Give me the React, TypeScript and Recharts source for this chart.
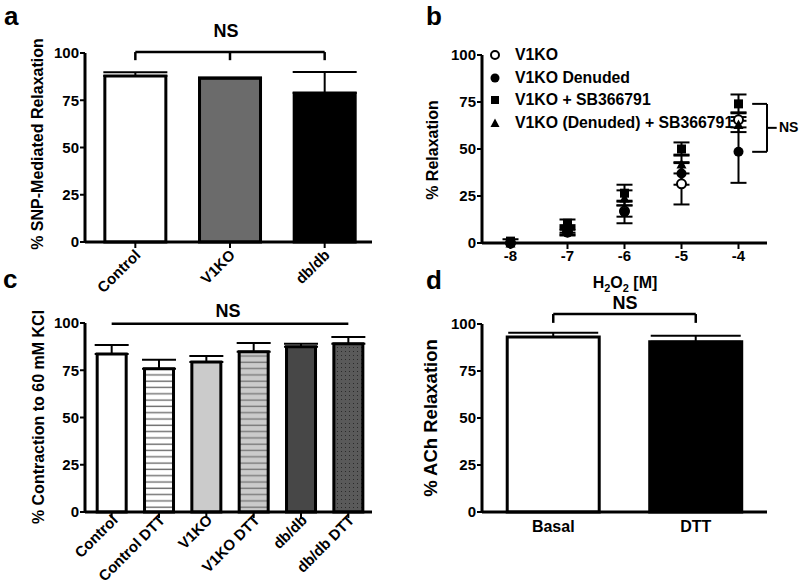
import React from "react";
import {
  BarChart,
  Bar,
  XAxis,
  YAxis,
  ErrorBar,
  Cell,
  ReferenceLine,
  ScatterChart,
  Scatter,
  Legend,
} from "recharts";

const FONT = "'Liberation Sans', Arial, Helvetica, sans-serif";
const INK = "#000000";

// a: SNP-mediated relaxation
const snpGroups = ["Control", "V1KO", "db/db"];
const snpMean = [87.8, 86.6, 78.8];
const snpSem = [2.0, 0.5, 11.2];
const snpFills = ["#ffffff", "#6b6b6b", "#000000"];

// b: H2O2 dose response
const doses = [-8, -7, -6, -5, -4];
const v1koMean = [0, 6, 17, 31.5, 65.5];
const v1koSem = [0, 1.5, 3, 11, 4];
const denudedMean = [0, 5.5, 16.5, 37, 48.5];
const denudedSem = [0, 1.5, 6, 6, 16.5];
const sbMean = [1, 10.5, 26.5, 50, 74];
const sbSem = [1, 2, 4.5, 3.5, 5];
const denudedSbMean = [0, 7.5, 24, 42, 63];
const denudedSbSem = [0, 2, 4, 5, 4];

// c: contraction to KCl
const kclGroups = ["Control", "Control DTT", "V1KO", "V1KO DTT", "db/db", "db/db DTT"];
const kclMean = [83.6, 75.8, 79.4, 84.8, 87.4, 89.0];
const kclSem = [4.8, 4.7, 3.2, 4.6, 1.6, 3.6];
const kclFills = ["#ffffff", "url(#hatchWhite)", "#cbcbcb", "url(#hatchGrey)", "#474747", "url(#dots)"];

// d: ACh relaxation
const achGroups = ["Basal", "DTT"];
const achMean = [93.1, 90.5];
const achSem = [2.2, 3.2];
const achFills = ["#ffffff", "#000000"];

const pctTicks = [0, 25, 50, 75, 100];

const snpData = snpGroups.map((g, i) => ({ group: g, mean: snpMean[i], err: [0, snpSem[i]] }));
const kclData = kclGroups.map((g, i) => ({ group: g, mean: kclMean[i], err: [0, kclSem[i]] }));
const achData = achGroups.map((g, i) => ({ group: g, mean: achMean[i], err: [0, achSem[i]] }));

const toPoints = (mean: number[], sem: number[]) =>
  doses.map((x, i) => ({ x, y: mean[i], err: sem[i] }));

const doseSeries = [
  { name: "V1KO", kind: "open", data: toPoints(v1koMean, v1koSem) },
  { name: "V1KO Denuded", kind: "circle", data: toPoints(denudedMean, denudedSem) },
  { name: "V1KO + SB366791", kind: "square", data: toPoints(sbMean, sbSem) },
  { name: "V1KO (Denuded) + SB366791", kind: "triangle", data: toPoints(denudedSbMean, denudedSbSem) },
];

// NS bracket at the top dose spans the highest and lowest mean there
const lastIdx = doses.length - 1;
const topAtMax = Math.max(...doseSeries.map((s) => s.data[lastIdx].y));
const lowAtMax = Math.min(...doseSeries.map((s) => s.data[lastIdx].y));

const axisLine = { stroke: INK, strokeWidth: 3 };
const tickLine = { stroke: INK, strokeWidth: 2 };
const tickFont = { fontSize: 15, fontWeight: "bold", fill: INK, fontFamily: FONT };

function drawMarker(kind: string, cx: number, cy: number, r = 4.5) {
  if (kind === "open") return <circle cx={cx} cy={cy} r={r} fill="#fff" stroke={INK} strokeWidth={2} />;
  if (kind === "circle") return <circle cx={cx} cy={cy} r={r + 0.5} fill={INK} />;
  if (kind === "square") return <rect x={cx - r} y={cy - r} width={r * 2} height={r * 2} fill={INK} />;
  return (
    <polygon
      points={`${cx},${cy - r - 0.5} ${cx + r + 0.5},${cy + r} ${cx - r - 0.5},${cy + r}`}
      fill={INK}
    />
  );
}

const angledTick = (dx: number, dy: number) => (props: any) => {
  const { x, y, payload } = props;
  return (
    <g transform={`translate(${x + dx},${y + dy})`}>
      <text textAnchor="end" transform="rotate(-45)" style={tickFont as any}>
        {payload.value}
      </text>
    </g>
  );
};

const doseLegend = (props: any) => {
  const names = doseSeries.map((s) => s.name);
  const items = [...(props.payload || [])].sort(
    (a: any, b: any) => names.indexOf(a.value) - names.indexOf(b.value)
  );
  return (
    <div style={{ fontFamily: FONT, fontWeight: "bold", fontSize: 15.8, color: INK }}>
      {items.map((entry: any) => {
        const s = doseSeries.find((d) => d.name === entry.value);
        return (
          <div key={entry.value} style={{ display: "flex", alignItems: "center", height: 22.5 }}>
            <svg width={12} height={12}>{drawMarker(s ? s.kind : "circle", 6, 6, 4)}</svg>
            <span style={{ marginLeft: 14, whiteSpace: "nowrap" }}>{entry.value}</span>
          </div>
        );
      })}
    </div>
  );
};

const Patterns = () => (
  <defs>
    <pattern id="hatchWhite" patternUnits="userSpaceOnUse" width={6} height={6.3}>
      <rect width={6} height={6.3} fill="#ffffff" />
      <line x1={0} y1={3} x2={6} y2={3} stroke="#6e6e6e" strokeWidth={1.4} />
    </pattern>
    <pattern id="hatchGrey" patternUnits="userSpaceOnUse" width={6} height={6.3}>
      <rect width={6} height={6.3} fill="#cbcbcb" />
      <line x1={0} y1={3} x2={6} y2={3} stroke="#7a7a7a" strokeWidth={1.4} />
    </pattern>
    <pattern id="dots" patternUnits="userSpaceOnUse" width={4} height={4}>
      <rect width={4} height={4} fill="#5a5a5a" />
      <rect x={1} y={1} width={1} height={1} fill="#2a2a2a" />
    </pattern>
  </defs>
);

export default function App() {
  return (
    <div style={{ position: "absolute", left: 0, top: 0, width: 800, height: 587, background: "#fff" }}>
      {/* a */}
      <div style={{ position: "absolute", left: 0, top: 0 }}>
        <BarChart
          width={400}
          height={310}
          data={snpData}
          margin={{ top: 53, right: 28, bottom: 38, left: 45 }}
          barCategoryGap="17.8%"
        >
          <XAxis
            dataKey="group"
            height={30}
            padding={{ left: 3, right: 0 }}
            axisLine={axisLine}
            tickLine={tickLine}
            tickSize={6}
            interval={0}
            tick={angledTick(6, 6)}
          />
          <YAxis
            width={40}
            domain={[0, 100]}
            ticks={pctTicks}
            axisLine={axisLine}
            tickLine={tickLine}
            tickSize={5}
            tickMargin={1}
            tick={tickFont}
          />
          <Bar dataKey="mean" stroke={INK} strokeWidth={3} isAnimationActive={false}>
            {snpData.map((d, i) => (
              <Cell key={d.group} fill={snpFills[i]} />
            ))}
            <ErrorBar dataKey="err" direction="y" width={32} stroke={INK} strokeWidth={2} />
          </Bar>
          <ReferenceLine
            ifOverflow="visible"
            stroke={INK}
            strokeWidth={2.5}
            segment={[{ x: "Control", y: 100.5 }, { x: "db/db", y: 100.5 }]}
          />
          {snpGroups.map((g) => (
            <ReferenceLine
              key={g}
              ifOverflow="visible"
              stroke={INK}
              strokeWidth={2.5}
              segment={[{ x: g, y: 100.5 }, { x: g, y: 96.2 }]}
            />
          ))}
        </BarChart>
      </div>

      {/* b */}
      <div style={{ position: "absolute", left: 400, top: 0 }}>
        <ScatterChart width={400} height={290} margin={{ top: 55, right: 33, bottom: 17, left: 42 }}>
          <XAxis
            type="number"
            dataKey="x"
            domain={[-8.5, -3.5]}
            ticks={doses}
            height={30}
            axisLine={axisLine}
            tickLine={tickLine}
            tickSize={6}
            tickMargin={1}
            tick={tickFont}
          />
          <YAxis
            type="number"
            dataKey="y"
            width={40}
            domain={[0, 100]}
            ticks={pctTicks}
            axisLine={axisLine}
            tickLine={tickLine}
            tickSize={5}
            tickMargin={1}
            tick={tickFont}
          />
          <Legend
            layout="vertical"
            align="center"
            verticalAlign="middle"
            content={doseLegend}
            wrapperStyle={{ left: 89, top: 44, width: 290 }}
          />
          {doseSeries.map((s) => (
            <Scatter
              key={s.name}
              name={s.name}
              data={s.data}
              isAnimationActive={false}
              fill={INK}
              shape={(p: any) => drawMarker(s.kind, p.cx, p.cy)}
            >
              <ErrorBar dataKey="err" direction="y" width={8} stroke={INK} strokeWidth={2} />
            </Scatter>
          ))}
          <ReferenceLine
            ifOverflow="visible"
            stroke={INK}
            strokeWidth={2}
            segment={[{ x: -3.76, y: topAtMax }, { x: -3.5, y: topAtMax }]}
          />
          <ReferenceLine
            ifOverflow="visible"
            stroke={INK}
            strokeWidth={2}
            segment={[{ x: -3.76, y: lowAtMax }, { x: -3.5, y: lowAtMax }]}
          />
          <ReferenceLine
            ifOverflow="visible"
            stroke={INK}
            strokeWidth={2}
            segment={[{ x: -3.5, y: topAtMax }, { x: -3.5, y: lowAtMax }]}
          />
          <ReferenceLine
            ifOverflow="visible"
            stroke={INK}
            strokeWidth={2}
            segment={[
              { x: -3.5, y: (topAtMax + lowAtMax) / 2 },
              { x: -3.33, y: (topAtMax + lowAtMax) / 2 },
            ]}
          />
        </ScatterChart>
      </div>

      {/* c */}
      <div style={{ position: "absolute", left: 0, top: 290 }}>
        <BarChart
          width={400}
          height={297}
          data={kclData}
          margin={{ top: 33, right: 28, bottom: 45, left: 45 }}
          barCategoryGap="19.4%"
        >
          <Patterns />
          <XAxis
            dataKey="group"
            height={30}
            padding={{ left: 3, right: 0 }}
            axisLine={axisLine}
            tickLine={tickLine}
            tickSize={6}
            interval={0}
            tick={angledTick(7, 1)}
          />
          <YAxis
            width={40}
            domain={[0, 100]}
            ticks={pctTicks}
            axisLine={axisLine}
            tickLine={tickLine}
            tickSize={5}
            tickMargin={1}
            tick={tickFont}
          />
          <Bar dataKey="mean" stroke={INK} strokeWidth={3} isAnimationActive={false}>
            {kclData.map((d, i) => (
              <Cell key={d.group} fill={kclFills[i]} />
            ))}
            <ErrorBar dataKey="err" direction="y" width={17} stroke={INK} strokeWidth={2} />
          </Bar>
          <ReferenceLine
            ifOverflow="visible"
            stroke={INK}
            strokeWidth={2.5}
            segment={[{ x: "Control", y: 99.6 }, { x: "db/db DTT", y: 99.6 }]}
          />
        </BarChart>
      </div>

      {/* d */}
      <div style={{ position: "absolute", left: 400, top: 290 }}>
        <BarChart
          width={400}
          height={297}
          data={achData}
          margin={{ top: 34, right: 33, bottom: 45, left: 42 }}
          barCategoryGap="17.7%"
        >
          <XAxis
            dataKey="group"
            height={30}
            axisLine={axisLine}
            tickLine={false}
            tickMargin={3}
            interval={0}
            tick={{ ...tickFont, fontSize: 16 }}
          />
          <YAxis
            width={40}
            domain={[0, 100]}
            ticks={pctTicks}
            axisLine={axisLine}
            tickLine={tickLine}
            tickSize={5}
            tickMargin={1}
            tick={tickFont}
          />
          <Bar dataKey="mean" stroke={INK} strokeWidth={3} isAnimationActive={false}>
            {achData.map((d, i) => (
              <Cell key={d.group} fill={achFills[i]} />
            ))}
            <ErrorBar dataKey="err" direction="y" width={45} stroke={INK} strokeWidth={2} />
          </Bar>
          <ReferenceLine
            ifOverflow="visible"
            stroke={INK}
            strokeWidth={2.5}
            segment={[{ x: "Basal", y: 105.3 }, { x: "DTT", y: 105.3 }]}
          />
          {achGroups.map((g) => (
            <ReferenceLine
              key={g}
              ifOverflow="visible"
              stroke={INK}
              strokeWidth={2.5}
              segment={[{ x: g, y: 105.3 }, { x: g, y: 100.6 }]}
            />
          ))}
        </BarChart>
      </div>

      {/* panel letters, axis titles, NS labels */}
      <svg
        width={800}
        height={587}
        style={{ position: "absolute", left: 0, top: 0, pointerEvents: "none" }}
        fontFamily={FONT}
        fontWeight="bold"
        fill={INK}
      >
        <text x={4} y={25} fontSize={26}>a</text>
        <text x={426} y={25} fontSize={26}>b</text>
        <text x={3} y={288} fontSize={26}>c</text>
        <text x={426} y={289} fontSize={26}>d</text>

        <text transform="translate(43,144) rotate(-90)" textAnchor="middle" fontSize={16}>
          % SNP-Mediated Relaxation
        </text>
        <text transform="translate(438,150) rotate(-90)" textAnchor="middle" fontSize={16}>
          % Relaxation
        </text>
        <text transform="translate(44,417) rotate(-90)" textAnchor="middle" fontSize={16}>
          % Contraction to 60 mM KCl
        </text>
        <text transform="translate(437,418) rotate(-90)" textAnchor="middle" fontSize={18.5}>
          % ACh Relaxation
        </text>

        <text x={625} y={288} textAnchor="middle" fontSize={16}>
          H<tspan fontSize={11} dy={4}>2</tspan>
          <tspan dy={-4}>O</tspan>
          <tspan fontSize={11} dy={4}>2</tspan>
          <tspan dy={-4}> [M]</tspan>
        </text>

        <text x={226} y={37} textAnchor="middle" fontSize={18}>NS</text>
        <text x={228} y={317} textAnchor="middle" fontSize={18}>NS</text>
        <text x={625} y={309} textAnchor="middle" fontSize={18}>NS</text>
        <text x={779} y={132} fontSize={14}>NS</text>
      </svg>
    </div>
  );
}
